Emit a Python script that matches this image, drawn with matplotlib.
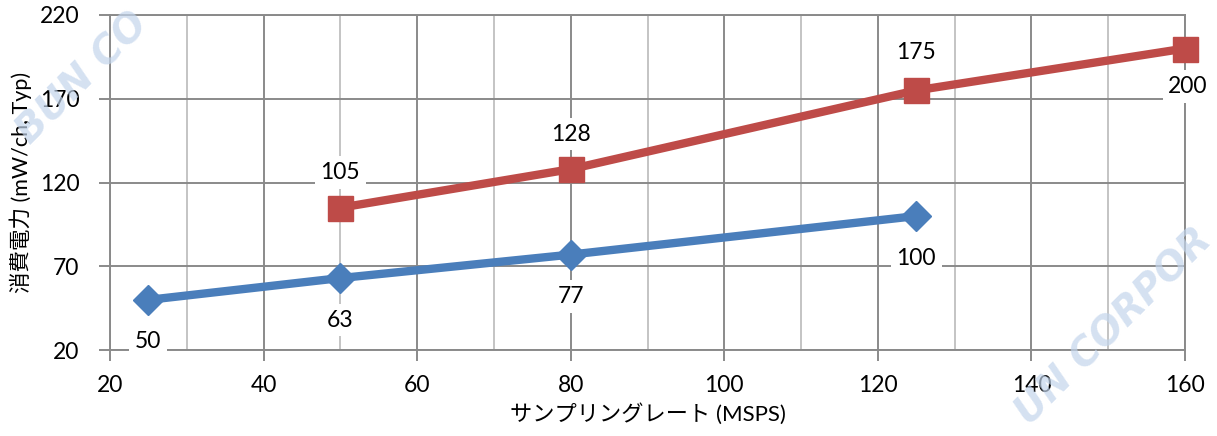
import matplotlib
matplotlib.use("Agg")
import matplotlib.pyplot as plt
from matplotlib.ticker import MultipleLocator

plt.rcParams['font.family'] = ['Lato', 'Noto Sans CJK JP', 'DejaVu Sans']

# power per channel vs sampling rate
rate_a = [25, 50, 80, 125]
power_a = [50, 63, 77, 100]
rate_b = [50, 80, 125, 160]
power_b = [105, 128, 175, 200]
# label placement for series b: above except last point
offset_b = [35, 35, 38, -38]
y_ticks = [20, 70, 120, 170, 220]

blue = '#4a7ebb'
red = '#be4b48'
major_c = '#8a8a8a'
minor_c = '#c4c4c4'

fig = plt.figure(figsize=(12.17, 4.36), dpi=100)
ax = fig.add_axes([0.0904, 0.197, 0.8833, 0.7686])

ax.set_xlim(20, 160)
ax.set_ylim(20, 220)
ax.xaxis.set_major_locator(MultipleLocator(20))
ax.xaxis.set_minor_locator(MultipleLocator(10))
ax.set_yticks(y_ticks)

ax.grid(which='major', color=major_c, lw=1.4, zorder=0)
ax.grid(which='minor', axis='x', color=minor_c, lw=1.4, zorder=0)
ax.set_axisbelow(True)
for s in ax.spines.values():
    s.set_color(major_c)
    s.set_linewidth(1.4)

ax.tick_params(which='major', direction='out', length=8, width=1.4, color=major_c,
               labelsize=16.5, pad=10)
ax.tick_params(which='minor', length=0)
ax.tick_params(axis='y', pad=14)

ax.plot(rate_a, power_a, color=blue, lw=6, marker='D', ms=15, zorder=3, clip_on=False)
ax.plot(rate_b, power_b, color=red, lw=6, marker='s', ms=18, zorder=3, clip_on=False)

box = dict(boxstyle='square,pad=0.25', fc='white', ec='none')
for x, y in zip(rate_a, power_a):
    ax.annotate(str(y), (x, y), xytext=(0, -42), textcoords='offset pixels',
                ha='center', va='center', fontsize=16.5, bbox=box, zorder=4)
for x, y, dy in zip(rate_b, power_b, offset_b):
    ax.annotate(str(y), (x, y), xytext=(3 if dy < 0 else 0, dy), textcoords='offset pixels',
                ha='center', va='center', fontsize=16.5, bbox=box, zorder=4)

ax.set_xlabel('サンプリングレート (MSPS)', fontsize=16, labelpad=5)
ax.set_ylabel('消費電力 (mW/ch, Typ)', fontsize=15.5, labelpad=6)

# faint diagonal watermark
wm = dict(fontsize=28, fontweight='bold', style='italic', color='#c3d5ec',
          alpha=0.7, rotation=45, ha='center', va='center', zorder=10,
          family='DejaVu Sans')
fig.text(0.068, 0.82, 'BUN CO', **wm)
fig.text(0.915, 0.25, 'UN CORPOR', **wm)

fig.savefig('out.png', dpi=100)
